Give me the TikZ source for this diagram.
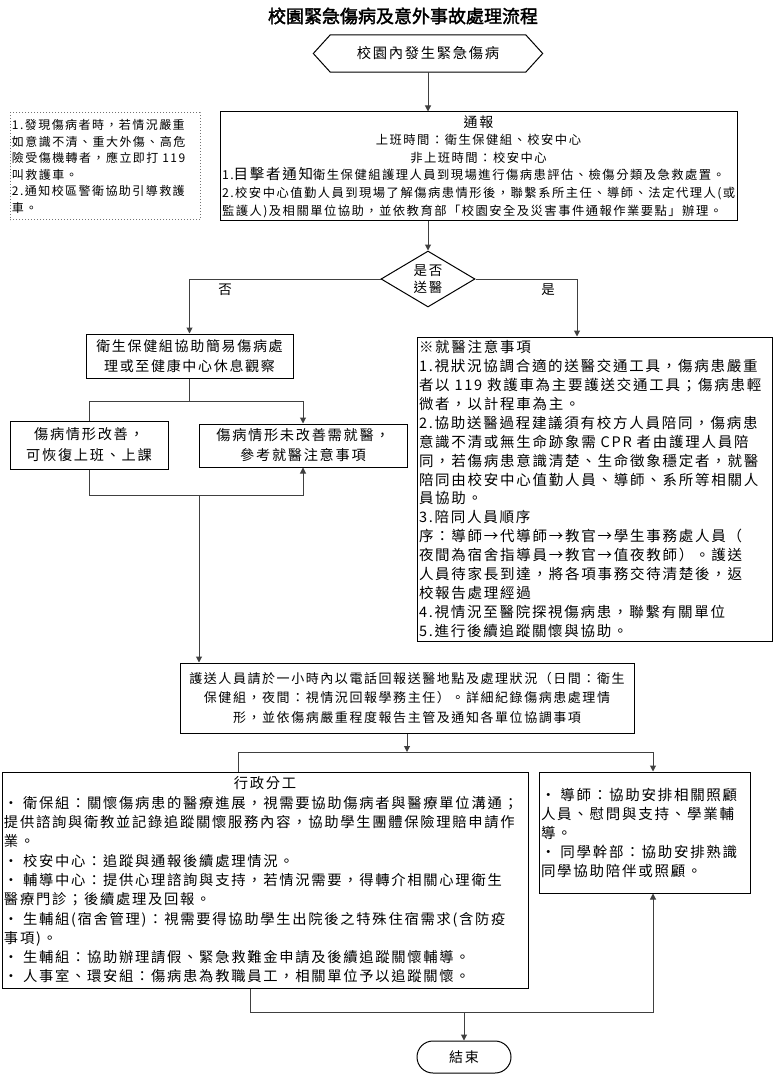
\documentclass[tikz,border=0pt]{standalone}
\usepackage{fontspec}
\newfontfamily\cjk{Noto Sans CJK TC}[LetterSpace=12]
\newfontfamily\cjktitle{Noto Sans CJK TC}[FakeBold=2]
\newcommand\myfs[2]{\fontsize{#1}{#2}\selectfont}
\usetikzlibrary{arrows.meta,shapes.geometric}
\tikzset{
  box/.style={draw=black, line width=1pt, inner sep=2pt, font=\cjk},
  dotbox/.style={draw=black!55, dotted, line width=1pt, inner sep=2pt, font=\cjk},
  conn/.style={draw=black!75, line width=1pt},
  arr/.style={conn, -{Triangle[length=6pt,width=6pt]}},
  lbl/.style={font={\cjk\myfs{13.5}{16}}, inner sep=0pt}
}
\begin{document}
\begin{tikzpicture}[x=1pt,y=-1pt]
\useasboundingbox (0,0) rectangle (774,1075);

% title
\node[font={\cjktitle\myfs{18}{20}}] (title) at (403,16) {校園緊急傷病及意外事故處理流程};

% start hexagon
\node[draw=none, minimum width=229pt, minimum height=37pt, inner sep=0pt, font={\cjk\myfs{14.3}{18}}] (start) at (428,53.5) {校園內發生緊急傷病};
\draw[line width=1pt] (start.west) -- ([xshift=17pt]start.north west) -- ([xshift=-17pt]start.north east) -- (start.east) -- ([xshift=-17pt]start.south east) -- ([xshift=17pt]start.south west) -- cycle;

% notification box
\node[box, text width=513pt, minimum height=109pt, align=left, font={\cjk\myfs{12.3}{17.6}}] (notify) at (478.5,166.5) {%
\makebox[513pt]{\myfs{14}{17.6}通報}\\
\makebox[513pt]{上班時間：衛生保健組、校安中心}\\
\makebox[513pt]{非上班時間：校安中心}\\
1.{\myfs{14.5}{17.6}目擊者通知}衛生保健組護理人員到現場進行傷病患評估、檢傷分類及急救處置。\\
2.校安中心值勤人員到現場了解傷病患情形後，聯繫系所主任、導師、法定代理人(或\\
監護人)及相關單位協助，並依教育部「校園安全及災害事件通報作業要點」辦理。};

% dotted note
\node[dotbox, text width=186pt, minimum height=107pt, align=left, font={\cjk\myfs{12}{16.5}}] (note) at (105,166.5) {%
1.發現傷病者時，若情況嚴重\\
如意識不清、重大外傷、高危\\
險受傷機轉者，應立即打 119\\
叫救護車。\\
2.通知校區警衛協助引導救護\\
車。};

% decision
\node[draw, line width=1pt, diamond, aspect=1.68, minimum width=94pt, minimum height=56pt, inner sep=0pt, align=center, font={\cjk\myfs{13.5}{17}}] (decision) at (428,279) {是否\\送醫};
\node[lbl] (nolbl) at (225,290) {否};
\node[lbl] (yeslbl) at (548,290) {是};

% left branch
\node[box, minimum width=207pt, minimum height=44pt, align=center, font={\cjk\myfs{14}{20}}] (care) at (189.5,356) {衛生保健組協助簡易傷病處\\理或至健康中心休息觀察};
\node[box, minimum width=158pt, minimum height=48pt, align=center, font={\cjk\myfs{14.2}{21}}] (better) at (89,445) {傷病情形改善，\\可恢復上班、上課};
\node[box, minimum width=208pt, minimum height=43pt, align=center, font={\cjk\myfs{14.2}{20}}] (notbetter) at (303,445.5) {傷病情形未改善需就醫，\\參考就醫注意事項};

% advice box
\node[box, text width=351pt, minimum height=304pt, align=left, font={\cjk\myfs{14.5}{18.9}}] (advice) at (594.5,489) {%
※就醫注意事項\\
1.視狀況協調合適的送醫交通工具，傷病患嚴重\\
者以 119 救護車為主要護送交通工具；傷病患輕\\
微者，以計程車為主。\\
2.協助送醫過程建議須有校方人員陪同，傷病患\\
意識不清或無生命跡象需 CPR 者由護理人員陪\\
同，若傷病患意識清楚、生命徵象穩定者，就醫\\
陪同由校安中心值勤人員、導師、系所等相關人\\
員協助。\\
3.陪同人員順序\\
序：導師→代導師→教官→學生事務處人員（\\
夜間為宿舍指導員→教官→值夜教師）。護送\\
人員待家長到達，將各項事務交待清楚後，返\\
校報告處理經過\\
4.視情況至醫院探視傷病患，聯繫有關單位\\
5.進行後續追蹤關懷與協助。};

% escort box
\node[box, minimum width=454pt, minimum height=70pt, align=center, font={\cjk\myfs{13}{19.5}}] (escort) at (407,698) {%
護送人員請於一小時內以電話回報送醫地點及處理狀況（日間：衛生\\
保健組，夜間：視情況回報學務主任）。詳細紀錄傷病患處理情\\
形，並依傷病嚴重程度報告主管及通知各單位協調事項};

% admin box
\node[box, text width=522pt, minimum height=216pt, align=left, font={\cjk\myfs{14.3}{19.3}}] (admin) at (265,880) {%
\makebox[522pt]{行政分工}\\
• 衛保組：關懷傷病患的醫療進展，視需要協助傷病者與醫療單位溝通；\\
提供諮詢與衛教並記錄追蹤關懷服務內容，協助學生團體保險理賠申請作\\
業。\\
• 校安中心：追蹤與通報後續處理情況。\\
• 輔導中心：提供心理諮詢與支持，若情況需要，得轉介相關心理衛生\\
醫療門診；後續處理及回報。\\
• 生輔組(宿舍管理)：視需要得協助學生出院後之特殊住宿需求(含防疫\\
事項)。\\
• 生輔組：協助辦理請假、緊急救難金申請及後續追蹤關懷輔導。\\
• 人事室、環安組：傷病患為教職員工，相關單位予以追蹤關懷。};

% right2 box
\node[box, text width=207pt, minimum height=121pt, align=left, font={\cjk\myfs{14.5}{19}}] (mentor) at (644.5,832.5) {%
• 導師：協助安排相關照顧\\
人員、慰問與支持、學業輔\\
導。\\
• 同學幹部：協助安排熟識\\
同學協助陪伴或照顧。};

% end
\node[draw, line width=1pt, rounded corners=16pt, minimum width=94pt, minimum height=32pt, font={\cjk\myfs{14}{16}}] (end) at (464,1057) {結束};

% coordinates
\coordinate (s1) at (0,401);
\coordinate (s2) at (0,495);
\coordinate (j2) at (199,495);
\coordinate (s3) at (0,752);
\coordinate (j3) at (238,752);
\coordinate (j4) at (653,752);
\coordinate (j5) at (250,0);
\coordinate (j6) at (653,1012);

% connectors
\draw[arr] (start.south) -- (start.south |- notify.north);
\draw[arr] (start.south |- notify.south) -- (decision.north);
\draw[arr] (decision.west) -| (care.north);
\draw[arr] (decision.east) -| ([xshift=-17.5pt]advice.north);
\draw[conn] (care.south) -- (care.south |- s1);
\draw[arr] (better.north) |- (s1 -| notbetter.north) -- (notbetter.north);
\draw[arr] (better.south) |- (s2 -| notbetter.south) -- (notbetter.south);
\draw[arr] (j2) -- (j2 |- escort.north);
\draw[arr] (escort.south) -- (escort.south |- s3);
\draw[arr] (j3 |- admin.north) |- (j4) -- (j4 |- mentor.north);
\draw[arr] (j5 |- admin.south) |- (j6) -- (j6 |- mentor.south);
\draw[arr] (end.north |- j6) -- (end.north);
\end{tikzpicture}
\end{document}
